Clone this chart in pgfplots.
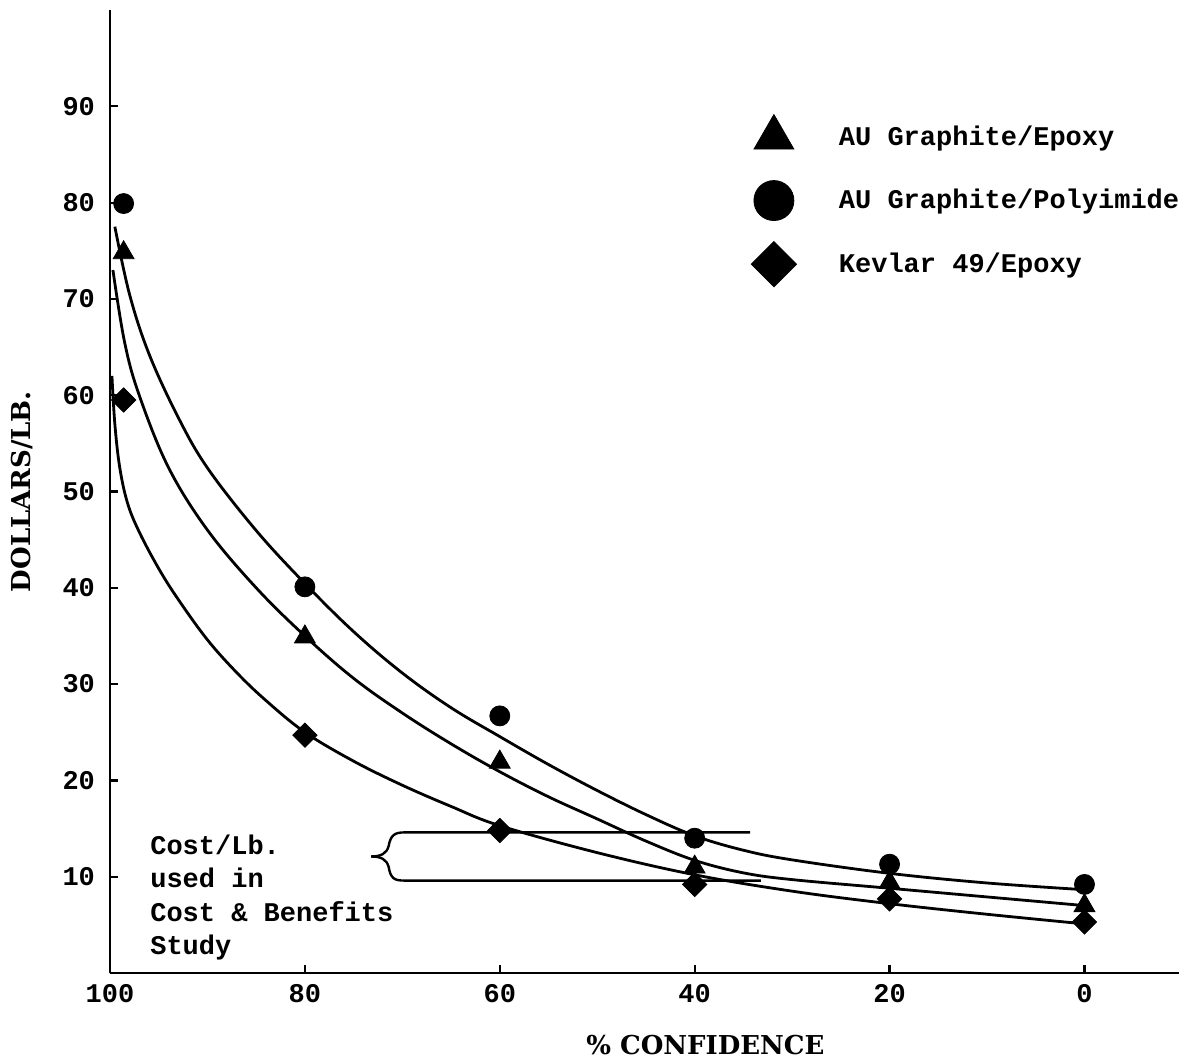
\documentclass[border=0pt]{standalone}
\usepackage{pgfplots}
\pgfplotsset{compat=1.18}
\usepackage{fontspec}
\setmonofont{Liberation Mono}
\newfontfamily\labelfont{DejaVu Serif}
\newcommand{\monofont}{\ttfamily\bfseries\fontsize{13.5}{16.7}\selectfont}
\begin{document}
\begin{tikzpicture}
\useasboundingbox (0,0) rectangle (593pt,531pt);
\begin{axis}[
  at={(55pt,44.5pt)}, anchor=south west,
  width=534.5pt, height=481.5pt, scale only axis,
  x dir=reverse,
  xmin=-9.7, xmax=100, ymin=0, ymax=100,
  axis x line=bottom, axis y line=left,
  axis line style={-, line width=1.4pt},
  xtick={100,80,60,40,20,0},
  ytick={10,20,30,40,50,60,70,80,90},
  tick align=inside, major tick length=4pt,
  tick style={line width=1.1pt, black},
  /pgf/number format/assume math mode=true,
  tick label style={font=\monofont},
  xticklabel style={yshift=-2pt},
  yticklabel style={xshift=-4pt},
  xlabel={\% CONFIDENCE},
  ylabel={DOLLARS/LB.},
  xlabel style={font=\labelfont\bfseries\fontsize{13}{15}\selectfont, at={(axis description cs:0.557,-0.0748)}, anchor=center},
  ylabel style={font=\labelfont\bfseries\fontsize{13}{15}\selectfont, at={(axis description cs:-0.0823,0.5)}, anchor=center},
  legend style={draw=none, fill=none, at={(axis cs:35.4,89.6)}, anchor=north west,
    font=\monofont, row sep=9.5pt, cells={anchor=west}},
  legend cell align=left,
  legend image code/.code={\draw[#1] plot coordinates {(14pt,0pt)};\path[draw=none,fill=none] (0pt,-11pt) rectangle (44.5pt,11pt);},
  clip=false,
]
% fitted curves
\addplot[smooth, tension=0.6, line width=1.4pt, forget plot] coordinates {
 (99.5,77.5) (98,70.5) (96,64.3) (93,57.7) (90,52.45) (85,45.95) (80,40.45) (75,35.45)
 (70,31.15) (65,27.55) (60,24.55) (55,21.65) (50,18.95) (45,16.45) (40,14.25) (35,12.75)
 (30,11.75) (20,10.35) (10,9.35) (0,8.65)};
\addplot[smooth, tension=0.6, line width=1.4pt, forget plot] coordinates {
 (99.7,73) (98.5,65.5) (97,60) (94,52.5) (90,46) (85,40) (80,35) (75,30.6) (70,27)
 (65,23.8) (60,20.9) (55,18.3) (50,16) (45,13.7) (40,11.7) (35,10.4) (30,9.7)
 (20,8.8) (10,7.9) (0,7.0)};
\addplot[smooth, tension=0.6, line width=1.4pt, forget plot] coordinates {
 (99.8,62) (99.5,57) (99,52.5) (98.2,48.8) (97,45.8) (95,42) (93,38.8) (90,34.6)
 (87,31.2) (84,28.3) (80,25.0) (75,22.0) (70,19.5) (65,17.3) (60,15.3) (50,12.5)
 (40,10.2) (30,8.5) (20,7.2) (10,6.1) (0,5.1)};
% data points
\addplot[only marks, mark=triangle*, mark size=6pt, black, forget plot] coordinates {
 (98.6,74.8) (80,34.9) (60,21.9) (40,11.0) (20,9.4) (0,7.0)};
\addplot[only marks, mark=*, mark size=5pt, black, forget plot] coordinates {
 (98.6,79.9) (80,40.1) (60,26.7) (40,14.0) (20,11.3) (0,9.2)};
\addplot[only marks, mark=square*, mark size=4.3pt, mark options={rotate=45}, black, forget plot] coordinates {
 (98.6,59.5) (80,24.7) (60,14.8) (40,9.2) (20,7.7) (0,5.3)};
% legend
\addlegendimage{only marks, mark=triangle*, mark size=11.5pt, black}
\addlegendentry{AU Graphite/Epoxy}
\addlegendimage{only marks, mark=*, mark size=10pt, black}
\addlegendentry{AU Graphite/Polyimide}
\addlegendimage{only marks, mark=square*, mark size=8pt, mark options={rotate=45}, black}
\addlegendentry{Kevlar 49/Epoxy}
% bracket annotation
\draw[line width=1.2pt] (axis cs:73.2,12.1) .. controls (axis cs:72.2,12.1) and (axis cs:71.6,12.4) .. (axis cs:71.4,13.2)
   .. controls (axis cs:71.2,14.3) and (axis cs:70.8,14.6) .. (axis cs:69.8,14.6) -- (axis cs:34.3,14.6);
\draw[line width=1.2pt] (axis cs:73.2,12.1) .. controls (axis cs:72.2,12.1) and (axis cs:71.6,11.8) .. (axis cs:71.4,11.0)
   .. controls (axis cs:71.2,9.8) and (axis cs:70.8,9.6) .. (axis cs:69.8,9.6) -- (axis cs:33.2,9.6);
\node[anchor=north west, align=left, inner sep=0pt, font=\monofont] at (axis cs:95.9,14.4)
  {Cost/Lb.\\used in\\Cost \& Benefits\\Study};
\end{axis}
\end{tikzpicture}
\end{document}
